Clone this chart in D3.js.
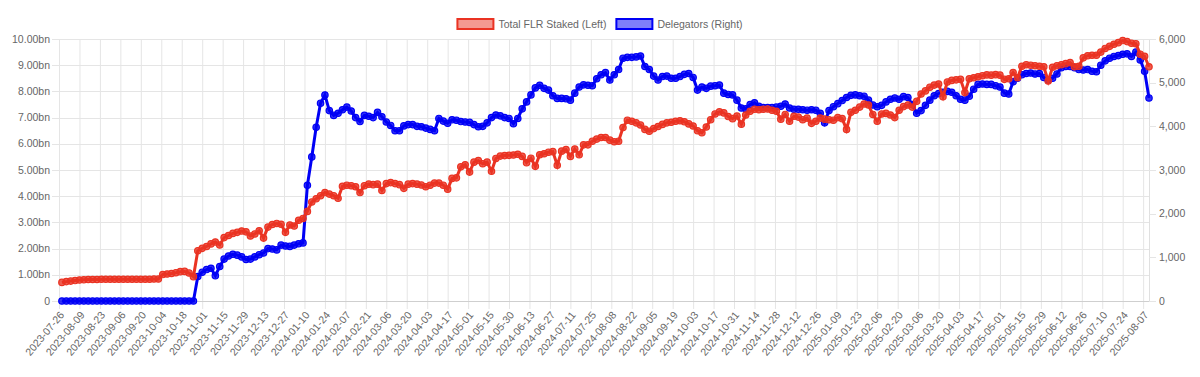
<!DOCTYPE html>
<html>
<head>
<meta charset="utf-8">
<script src="https://cdn.jsdelivr.net/npm/d3@7"></script>
<style>
  body { margin: 0; background: #fff; }
  svg { display: block; font-family: "Helvetica Neue", Helvetica, Arial, sans-serif; }
  .tick-label { font-size: 10.5px; fill: #666; }
  .grid line { stroke: #e5e5e5; stroke-width: 1; }
</style>
</head>
<body>
<script>
const width = 1200,
    height = 377;

const margin = {left: 59, right: 51, top: 39, bottom: 76};

// category labels shown on the x axis (every 14th day of the data)
const tickLabels = [
    '2023-07-26', '2023-08-09', '2023-08-23', '2023-09-06', '2023-09-20', '2023-10-04',
    '2023-10-18', '2023-11-01', '2023-11-15', '2023-11-29', '2023-12-13', '2023-12-27',
    '2024-01-10', '2024-01-24', '2024-02-07', '2024-02-21', '2024-03-06', '2024-03-20',
    '2024-04-03', '2024-04-17', '2024-05-01', '2024-05-15', '2024-05-30', '2024-06-13',
    '2024-06-27', '2024-07-11', '2024-07-25', '2024-08-08', '2024-08-22', '2024-09-05',
    '2024-09-19', '2024-10-03', '2024-10-17', '2024-10-31', '2024-11-14', '2024-11-28',
    '2024-12-12', '2024-12-26', '2025-01-09', '2025-01-23', '2025-02-06', '2025-02-20',
    '2025-03-06', '2025-03-20', '2025-04-03', '2025-04-17', '2025-05-01', '2025-05-15',
    '2025-05-29', '2025-06-12', '2025-06-26', '2025-07-10', '2025-07-24', '2025-08-07'
];
const labelEvery = 14;
const lastIndex = 746;

// sampled every 3rd category, starting at index 2
const sampleStart = 2,
    sampleStep = 3;

// Total FLR staked, billions (left axis)
const staked = [
    0.71, 0.74, 0.76, 0.78, 0.80, 0.81, 0.82, 0.82, 0.82, 0.83,
    0.83, 0.83, 0.83, 0.83, 0.83, 0.83, 0.83, 0.83, 0.83, 0.83,
    0.83, 0.84, 0.84, 1.01, 1.03, 1.05, 1.08, 1.12, 1.13, 1.07,
    0.93, 1.92, 2.01, 2.08, 2.18, 2.25, 2.14, 2.42, 2.50, 2.58,
    2.62, 2.67, 2.64, 2.48, 2.56, 2.68, 2.40, 2.82, 2.92, 2.96,
    2.93, 2.62, 2.90, 2.86, 3.08, 3.15, 3.42, 3.78, 3.90, 4.02,
    4.14, 4.08, 4.02, 3.92, 4.38, 4.42, 4.40, 4.36, 4.14, 4.40,
    4.46, 4.44, 4.46, 4.22, 4.48, 4.52, 4.48, 4.44, 4.30, 4.46,
    4.48, 4.46, 4.43, 4.36, 4.42, 4.50, 4.50, 4.42, 4.27, 4.68,
    4.70, 5.12, 5.20, 4.92, 5.30, 5.36, 5.24, 5.30, 4.95, 5.44,
    5.53, 5.55, 5.56, 5.57, 5.60, 5.52, 5.28, 5.45, 5.14, 5.58,
    5.62, 5.68, 5.70, 5.18, 5.72, 5.78, 5.52, 5.80, 5.58, 5.96,
    5.96, 6.10, 6.18, 6.24, 6.24, 6.14, 6.08, 6.10, 6.62, 6.90,
    6.86, 6.80, 6.72, 6.55, 6.48, 6.58, 6.66, 6.74, 6.80, 6.82,
    6.86, 6.88, 6.84, 6.76, 6.68, 6.50, 6.42, 6.64, 6.92, 7.14,
    7.22, 7.18, 7.04, 6.96, 7.06, 6.75, 7.10, 7.24, 7.32, 7.30,
    7.32, 7.33, 7.28, 7.24, 6.94, 7.12, 6.86, 7.05, 7.02, 6.92,
    6.98, 6.78, 6.86, 6.98, 6.94, 6.92, 6.90, 7.00, 6.96, 6.55,
    7.20, 7.28, 7.40, 7.52, 7.48, 7.12, 6.86, 7.14, 7.16, 7.10,
    7.00, 7.28, 7.42, 7.48, 7.40, 7.62, 7.90, 8.02, 8.16, 8.24,
    8.28, 7.80, 8.36, 8.42, 8.44, 8.46, 7.96, 8.48, 8.52, 8.56,
    8.60, 8.63, 8.62, 8.64, 8.62, 8.46, 8.48, 8.72, 8.52, 8.96,
    9.02, 9.00, 8.98, 8.96, 8.94, 8.40, 8.92, 8.98, 9.02, 9.06,
    9.10, 8.94, 8.96, 9.28, 9.36, 9.38, 9.38, 9.50, 9.64, 9.72,
    9.80, 9.86, 9.94, 9.90, 9.84, 9.82, 9.42, 9.34, 8.94
];

// number of delegators (right axis)
const delegators = [
    0, 0, 0, 0, 0, 0, 0, 0, 0, 0,
    0, 0, 0, 0, 0, 0, 0, 0, 0, 0,
    0, 0, 0, 0, 0, 0, 0, 0, 0, 0,
    0, 560, 660, 720, 750, 580, 790, 960, 1030, 1070,
    1050, 1010, 950, 960, 1010, 1060, 1100, 1200, 1190, 1170,
    1280, 1260, 1250, 1280, 1310, 1330, 2650, 3300, 3980, 4530,
    4717, 4360, 4250, 4300, 4380, 4440, 4350, 4200, 4110, 4250,
    4230, 4200, 4320, 4220, 4100, 4020, 3900, 3900, 4010, 4040,
    4040, 4000, 3990, 3960, 3930, 3900, 4180, 4120, 4070, 4150,
    4140, 4110, 4100, 4090, 4040, 3990, 4000, 4080, 4200, 4260,
    4240, 4200, 4180, 4060, 4180, 4400, 4560, 4720, 4880, 4940,
    4870, 4830, 4700, 4640, 4640, 4630, 4600, 4760, 4900, 4950,
    4940, 4930, 5090, 5180, 5230, 5060, 5180, 5300, 5560, 5580,
    5580, 5590, 5610, 5370, 5300, 5150, 5060, 5140, 5150, 5100,
    5100, 5140, 5190, 5210, 5120, 4830, 4900, 4870, 4920, 4930,
    4946, 4760, 4730, 4720, 4600, 4420, 4400, 4500, 4540, 4460,
    4430, 4430, 4430, 4440, 4460, 4510, 4420, 4390, 4390, 4380,
    4370, 4380, 4370, 4300, 4080, 4360, 4450, 4520, 4590, 4660,
    4710, 4720, 4700, 4690, 4600, 4490, 4450, 4480, 4560, 4620,
    4650, 4620, 4680, 4660, 4500, 4300, 4360, 4480, 4600, 4700,
    4750, 4780, 4800, 4780, 4700, 4620, 4600, 4690, 4850, 4960,
    4970, 4960, 4960, 4930, 4900, 4760, 4740, 5020, 5100, 5180,
    5210, 5220, 5200, 5210, 5120, 5060, 5100, 5200, 5340, 5370,
    5370, 5340, 5300, 5290, 5300, 5260, 5250, 5400, 5500, 5560,
    5600, 5620, 5650, 5660, 5600, 5700, 5520, 5260, 4650
];

const leftTicks = d3.range(0, 11, 1);
const rightTicks = d3.range(0, 7000, 1000);

const red = 'rgb(234, 51, 35)',
    redFill = 'rgba(234, 51, 35, 0.5)',
    blue = 'rgb(0, 0, 245)',
    blueFill = 'rgba(0, 0, 245, 0.5)';

const x = d3.scaleLinear().domain([0, lastIndex]).range([margin.left, width - margin.right]);
const yLeft = d3.scaleLinear().domain([0, 10]).range([height - margin.bottom, margin.top]);
const yRight = d3.scaleLinear().domain([0, 6000]).range([height - margin.bottom, margin.top]);

const svg = d3.select('body').append('svg')
    .attr('width', width)
    .attr('height', height)
    ;

const x0 = margin.left, x1 = width - margin.right,
    y0 = height - margin.bottom, y1 = margin.top;

// vertical grid, one line per shown label
const grid = svg.append('g').attr('class', 'grid');
grid.selectAll('line.v')
    .data(tickLabels)
    .enter()
    .append('line')
    .attr('x1', (d, i) => x(i * labelEvery) + 0.5)
    .attr('x2', (d, i) => x(i * labelEvery) + 0.5)
    .attr('y1', y1)
    .attr('y2', y0 + 8)
    ;

// horizontal grid from the left axis
grid.selectAll('line.h')
    .data(leftTicks)
    .enter()
    .append('line')
    .attr('x1', x0 - 7)
    .attr('x2', x1)
    .attr('y1', d => Math.round(yLeft(d)) + 0.5)
    .attr('y2', d => Math.round(yLeft(d)) + 0.5)
    ;

// right axis border and tick marks
svg.append('line')
    .attr('x1', x1 + 0.5).attr('x2', x1 + 0.5)
    .attr('y1', y1).attr('y2', y0)
    .attr('stroke', '#e0e0e0');
svg.append('g').selectAll('line')
    .data(rightTicks)
    .enter()
    .append('line')
    .attr('x1', x1)
    .attr('x2', x1 + 7)
    .attr('y1', d => Math.round(yRight(d)) + 0.5)
    .attr('y2', d => Math.round(yRight(d)) + 0.5)
    .attr('stroke', '#e5e5e5');

// baseline
svg.append('line')
    .attr('x1', x0).attr('x2', x1)
    .attr('y1', y0 + 0.5).attr('y2', y0 + 0.5)
    .attr('stroke', '#cfcfcf');

// tick labels
svg.append('g').selectAll('text')
    .data(leftTicks)
    .enter()
    .append('text')
    .attr('class', 'tick-label')
    .attr('x', x0 - 9)
    .attr('y', d => yLeft(d))
    .attr('dy', '0.35em')
    .attr('text-anchor', 'end')
    .text(d => d === 0 ? '0' : d.toFixed(2) + 'bn');

svg.append('g').selectAll('text')
    .data(rightTicks)
    .enter()
    .append('text')
    .attr('class', 'tick-label')
    .attr('x', x1 + 10)
    .attr('y', d => yRight(d))
    .attr('dy', '0.35em')
    .text(d => d3.format(',')(d));

svg.append('g').selectAll('text')
    .data(tickLabels)
    .enter()
    .append('text')
    .attr('class', 'tick-label')
    .attr('text-anchor', 'end')
    .attr('transform', (d, i) => 'translate(' + (x(i * labelEvery) + 3) + ',' + (y0 + 12) + ') rotate(-50)')
    .attr('dy', '0.35em')
    .text(d => d);

// series
function toPoints(values) {
    return values.map((v, i) => ({i: sampleStart + i * sampleStep, v: v}));
}

function renderSeries(values, y, stroke, fill) {
    const pts = toPoints(values);
    const line = d3.line()
        .x(d => x(d.i))
        .y(d => y(d.v))
        ;
    const g = svg.append('g');
    g.append('path')
        .attr('d', line(pts))
        .attr('fill', 'none')
        .attr('stroke', stroke)
        .attr('stroke-width', 3)
        ;
    g.selectAll('circle')
        .data(pts)
        .enter()
        .append('circle')
        .attr('cx', d => x(d.i))
        .attr('cy', d => y(d.v))
        .attr('r', 3.2)
        .attr('fill', fill)
        .attr('stroke', stroke)
        .attr('stroke-width', 1.2)
        ;
}

// the first dataset is painted last, on top
renderSeries(delegators, yRight, blue, 'rgba(0, 0, 245, 0.8)');
renderSeries(staked, yLeft, red, 'rgba(234, 51, 35, 0.8)');

// legend
const legendItems = [
    {name: 'Total FLR Staked (Left)', stroke: red, fill: redFill},
    {name: 'Delegators (Right)', stroke: blue, fill: blueFill}
];
const boxW = 36, boxH = 10, legendY = 19;
const legend = svg.append('g');
const items = legend.selectAll('g')
    .data(legendItems)
    .enter()
    .append('g');
items.append('rect')
    .attr('width', boxW)
    .attr('height', boxH)
    .attr('fill', d => d.fill)
    .attr('stroke', d => d.stroke)
    .attr('stroke-width', 2);
items.append('text')
    .attr('class', 'tick-label')
    .attr('x', boxW + 5)
    .attr('y', boxH / 2)
    .attr('dy', '0.35em')
    .text(d => d.name);

let widths = [];
items.each(function () {
    widths.push(boxW + 5 + d3.select(this).select('text').node().getComputedTextLength());
});
const total = d3.sum(widths) + 10 * (widths.length - 1);
let cursor = width / 2 - total / 2;
items.attr('transform', (d, i) => {
    const t = 'translate(' + cursor + ',' + legendY + ')';
    cursor += widths[i] + 10;
    return t;
});
</script>
</body>
</html>
